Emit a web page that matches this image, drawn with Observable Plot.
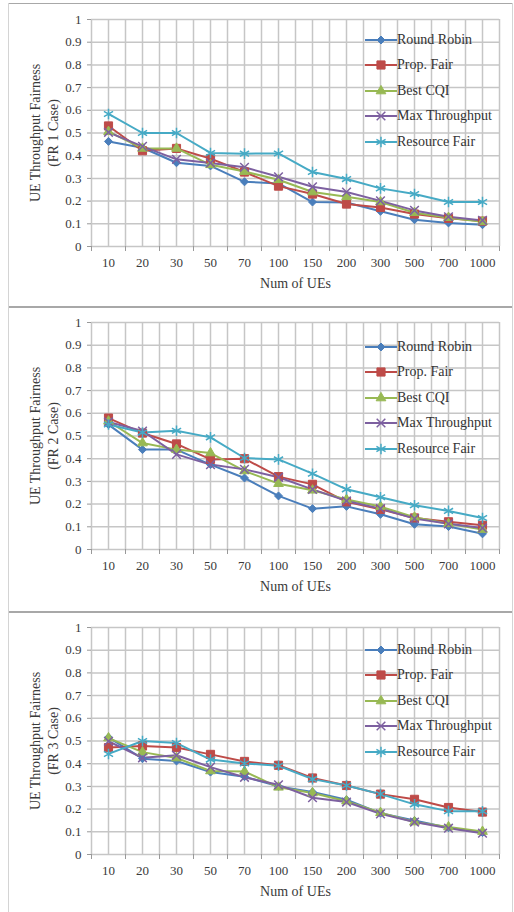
<!DOCTYPE html>
<html>
<head>
<meta charset="utf-8">
<script src="https://cdn.jsdelivr.net/npm/d3@7"></script>
<script src="https://cdn.jsdelivr.net/npm/@observablehq/plot@0.6"></script>
<style>
  html, body { margin: 0; padding: 0; background: #fff; }
  #wrap { position: relative; width: 514px; height: 912px; overflow: hidden; font-family: "Liberation Serif", "Times New Roman", serif; }
  .panel { position: absolute; left: 0; width: 514px; }
  .frame { position: absolute; }
  .legend { position: absolute; left: 365px; font-size: 14px; color: #333; }
  .legend .row { position: absolute; left: 0; height: 20px; display: flex; align-items: center; white-space: nowrap; }
  .legend svg { display: block; }
</style>
</head>
<body>
<div id="wrap"></div>
<script>
// ---- data ----
const categories = ["10", "20", "30", "50", "70", "100", "150", "200", "300", "500", "700", "1000"];
const seriesNames = ["Round Robin", "Prop. Fair", "Best CQI", "Max Throughput", "Resource Fair"];
const yTicks = [0, 0.1, 0.2, 0.3, 0.4, 0.5, 0.6, 0.7, 0.8, 0.9, 1];
const xTitle = "Num of UEs";
const yTitles = ["UE Throughput Fairness\n(FR 1 Case)", "UE Throughput Fairness\n(FR 2 Case)", "UE Throughput Fairness\n(FR 3 Case)"];

// FR 1 case
const fr1RoundRobin   = [0.463, 0.435, 0.369, 0.355, 0.285, 0.278, 0.196, 0.194, 0.155, 0.118, 0.104, 0.096];
const fr1PropFair     = [0.531, 0.422, 0.432, 0.387, 0.328, 0.266, 0.231, 0.187, 0.172, 0.143, 0.124, 0.112];
const fr1BestCQI      = [0.506, 0.432, 0.432, 0.360, 0.330, 0.294, 0.240, 0.219, 0.196, 0.149, 0.127, 0.109];
const fr1MaxThroughput= [0.503, 0.441, 0.384, 0.368, 0.349, 0.307, 0.263, 0.240, 0.201, 0.159, 0.131, 0.115];
const fr1ResourceFair = [0.584, 0.500, 0.500, 0.412, 0.409, 0.410, 0.328, 0.297, 0.256, 0.231, 0.196, 0.196];

// FR 2 case
const fr2RoundRobin   = [0.550, 0.440, 0.440, 0.374, 0.315, 0.236, 0.180, 0.190, 0.155, 0.111, 0.101, 0.069];
const fr2PropFair     = [0.579, 0.513, 0.465, 0.397, 0.400, 0.321, 0.287, 0.210, 0.177, 0.139, 0.122, 0.107];
const fr2BestCQI      = [0.565, 0.469, 0.440, 0.425, 0.346, 0.290, 0.261, 0.220, 0.189, 0.142, 0.113, 0.088];
const fr2MaxThroughput= [0.562, 0.522, 0.419, 0.374, 0.353, 0.318, 0.265, 0.214, 0.180, 0.136, 0.113, 0.095];
const fr2ResourceFair = [0.551, 0.515, 0.523, 0.494, 0.403, 0.397, 0.334, 0.265, 0.230, 0.195, 0.170, 0.139];

// FR 3 case
const fr3RoundRobin   = [0.516, 0.422, 0.412, 0.363, 0.343, 0.300, 0.275, 0.241, 0.182, 0.150, 0.118, 0.097];
const fr3PropFair     = [0.471, 0.478, 0.471, 0.441, 0.410, 0.393, 0.337, 0.304, 0.266, 0.243, 0.207, 0.187];
const fr3BestCQI      = [0.513, 0.451, 0.425, 0.368, 0.366, 0.296, 0.271, 0.235, 0.184, 0.143, 0.121, 0.101];
const fr3MaxThroughput= [0.499, 0.426, 0.437, 0.385, 0.340, 0.307, 0.250, 0.231, 0.179, 0.143, 0.116, 0.094];
const fr3ResourceFair = [0.443, 0.500, 0.491, 0.418, 0.401, 0.391, 0.332, 0.304, 0.266, 0.221, 0.191, 0.190];

// ---- styling ----
const seriesStyles = [
  {color: "#4a7ebb", symbol: "diamond2", r: 3.6, filled: true,  d3sym: d3.symbolDiamond2},
  {color: "#be4b48", symbol: "square",   r: 4.6, filled: true,  d3sym: d3.symbolSquare},
  {color: "#98b954", symbol: "triangle", r: 3.6, filled: true,  d3sym: d3.symbolTriangle},
  {color: "#7d60a0", symbol: "times",    r: 4.0, filled: false, d3sym: d3.symbolTimes},
  {color: "#46aac5", symbol: "asterisk", r: 5.0, filled: false, d3sym: d3.symbolAsterisk}
];

const panels = [
  {top: 0,   legendTop: 30,  yTitle: yTitles[0], series: [fr1RoundRobin, fr1PropFair, fr1BestCQI, fr1MaxThroughput, fr1ResourceFair]},
  {top: 303, legendTop: 337, yTitle: yTitles[1], series: [fr2RoundRobin, fr2PropFair, fr2BestCQI, fr2MaxThroughput, fr2ResourceFair]},
  {top: 608, legendTop: 640, yTitle: yTitles[2], series: [fr3RoundRobin, fr3PropFair, fr3BestCQI, fr3MaxThroughput, fr3ResourceFair]}
];

const wrap = document.getElementById("wrap");
const idx = d3.range(categories.length);
const edges = d3.range(-0.5, categories.length, 1);
const gridX = d3.range(-0.5, categories.length, 0.5);
const gridColor = "#c6c6c6";
const textColor = "#3a3a3a";

for (const p of panels) {
  const marks = [
    Plot.ruleY(yTicks, {y: d => d, stroke: gridColor, strokeWidth: 1.5}),
    Plot.ruleX(gridX, {x: d => d, stroke: gridColor, strokeWidth: 1.5}),
    Plot.axisY({ticks: yTicks, tickSize: 4, tickPadding: 6, tickFormat: d => String(+d.toFixed(1)), fontSize: 13, label: null, stroke: "#999", fill: textColor}),
    Plot.axisX({ticks: edges, tickSize: 5, tickFormat: () => "", label: null, stroke: "#999"}),
    Plot.axisX({ticks: idx, tickSize: 0, tickPadding: 11, tickFormat: i => categories[i], fontSize: 13, label: null, fill: textColor}),
    Plot.text([p.yTitle], {text: d => d, frameAnchor: "left", rotate: -90, dx: -48, fontSize: 14, lineHeight: 1.24, lineAnchor: "middle", textAnchor: "middle", fill: textColor}),
    Plot.text([xTitle], {text: d => d, frameAnchor: "bottom", dy: 37, fontSize: 14, lineAnchor: "middle", textAnchor: "middle", fill: textColor})
  ];
  p.series.forEach((vals, s) => {
    const st = seriesStyles[s];
    const data = vals.map((v, i) => ({i, v}));
    marks.push(Plot.line(data, {x: "i", y: "v", stroke: st.color, strokeWidth: 2}));
  });
  p.series.forEach((vals, s) => {
    const st = seriesStyles[s];
    const data = vals.map((v, i) => ({i, v}));
    marks.push(Plot.dot(data, {
      x: "i", y: "v", symbol: () => st.symbol, r: st.r,
      fill: st.filled ? st.color : "none",
      stroke: st.color, strokeWidth: st.filled ? 1 : 1.5
    }));
  });

  const chart = Plot.plot({
    width: 514,
    height: 300,
    marginLeft: 91,
    marginRight: 15,
    marginTop: 19,
    marginBottom: 54,
    x: {type: "linear", domain: [-0.5, categories.length - 0.5], label: null},
    y: {type: "linear", domain: [0, 1], label: null},
    symbol: {type: "identity"},
    style: {fontFamily: "'Liberation Serif', 'Times New Roman', serif", fontSize: "13px", color: textColor, background: "transparent", overflow: "visible"},
    marks
  });
  const div = document.createElement("div");
  div.className = "panel";
  div.style.top = p.top + "px";
  div.appendChild(chart);
  wrap.appendChild(div);

  // legend (HTML overlay, transparent)
  const leg = document.createElement("div");
  leg.className = "legend";
  leg.style.top = p.legendTop + "px";
  seriesNames.forEach((name, s) => {
    const st = seriesStyles[s];
    const row = document.createElement("div");
    row.className = "row";
    row.style.top = (s * 25.4) + "px";
    const sw = d3.create("svg").attr("width", 32).attr("height", 20);
    sw.append("line").attr("x1", 0).attr("x2", 32).attr("y1", 10).attr("y2", 10).attr("stroke", st.color).attr("stroke-width", 2);
    sw.append("path")
      .attr("transform", "translate(16,10)")
      .attr("d", d3.symbol(st.d3sym, Math.PI * st.r * st.r)())
      .attr("fill", st.filled ? st.color : "none")
      .attr("stroke", st.color)
      .attr("stroke-width", st.filled ? 1 : 1.5);
    row.appendChild(sw.node());
    const t = document.createElement("span");
    t.textContent = name;
    row.appendChild(t);
    leg.appendChild(row);
  });
  wrap.appendChild(leg);
}

// outer frame lines
function frame(left, top, w, h, color) {
  const f = document.createElement("div");
  f.className = "frame";
  Object.assign(f.style, {left: left + "px", top: top + "px", width: w + "px", height: h + "px", background: color});
  wrap.appendChild(f);
}
frame(9, 3, 504, 1, "#a8a8a8");
frame(9, 306, 504, 2, "#a8a8a8");
frame(9, 611, 504, 2, "#a8a8a8");
frame(8, 3, 1, 909, "#d4d4d4");
frame(512, 3, 1, 909, "#d4d4d4");
</script>
</body>
</html>
